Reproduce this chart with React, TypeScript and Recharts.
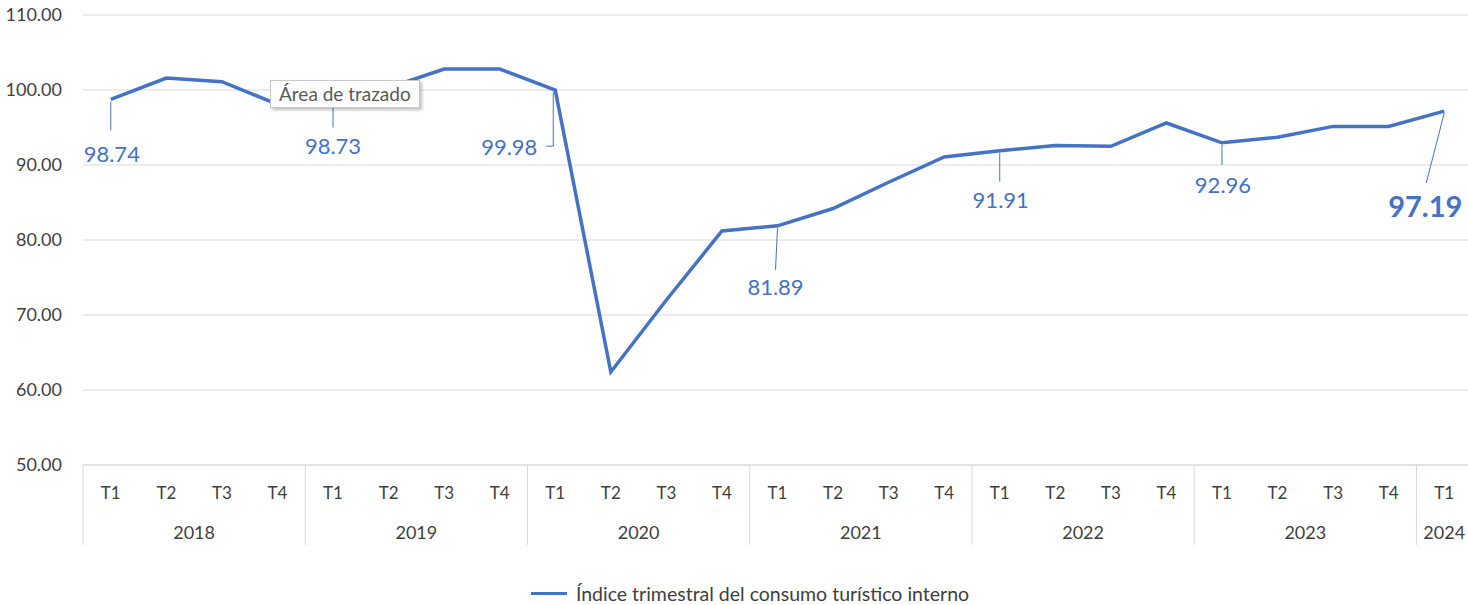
import React from "react";
import { LineChart, Line, XAxis, YAxis, CartesianGrid, LabelList, Legend } from "recharts";

const quarters = ["T1", "T2", "T3", "T4", "T1", "T2", "T3", "T4", "T1", "T2", "T3", "T4", "T1", "T2", "T3", "T4", "T1", "T2", "T3", "T4", "T1", "T2", "T3", "T4", "T1"];
const years = ["2018", "2018", "2018", "2018", "2019", "2019", "2019", "2019", "2020", "2020", "2020", "2020", "2021", "2021", "2021", "2021", "2022", "2022", "2022", "2022", "2023", "2023", "2023", "2023", "2024"];
const values = [98.74, 101.6, 101.1, 98.1, 98.73, 100.3, 102.8, 102.8, 99.98, 62.4, 72.0, 81.2, 81.89, 84.2, 87.7, 91.07, 91.91, 92.6, 92.5, 95.6, 92.96, 93.7, 95.15, 95.15, 97.19];
const yTicks = [50, 60, 70, 80, 90, 100, 110];
const labelledIdx = [0, 4, 8, 12, 16, 20, 24];

const SERIES_NAME = "Índice trimestral del consumo turístico interno";
const BLUE = "#4472C4";
const FONT = "Lato, 'Noto Sans', sans-serif";
const W = 1468;
const H = 605;
// the original plot runs a little past the right edge of the picture
const CHART_W = 1472;
const PLOT_LEFT = 83;
const PLOT_RIGHT = 1472;
const PLOT_TOP = 15;
const PLOT_BOTTOM = 465;
const AXIS_BOTTOM = 545;
const HALF_BAND = (PLOT_RIGHT - PLOT_LEFT) / quarters.length / 2;

const data = quarters.map((q, i) => ({ q, year: years[i], v: values[i] }));

// label placement per labelled point (offsets from the point)
const labelLayout: Record<number, { dx: number; dy: number; lead: number[][]; bold?: boolean }> = {
  0: { dx: 1, dy: 54, lead: [[0, 2], [0, 31]] },
  4: { dx: 0, dy: 46, lead: [[0, 2], [0, 28]] },
  8: { dx: -46, dy: 56, lead: [[-2, 2], [-2, 56], [-9, 56]] },
  12: { dx: -2, dy: 61, lead: [[0, 2], [-2, 44]] },
  16: { dx: 1, dy: 49, lead: [[0, 2], [0, 31]] },
  20: { dx: 1, dy: 42, lead: [[0, 2], [0, 22]] },
  24: { dx: -19, dy: 94, lead: [[0, 2], [-18, 72]], bold: true },
};

function PointLabel(props: any) {
  const { x, y, value, index } = props;
  const idx = typeof index === "number" ? index : values.indexOf(value);
  if (!labelledIdx.includes(idx)) return null;
  const l = labelLayout[idx];
  const pts = l.lead.map(([a, b]) => `${x + a},${y + b}`).join(" ");
  return (
    <g>
      <polyline points={pts} fill="none" stroke={BLUE} strokeWidth={1} />
      <text
        x={x + l.dx}
        y={y + l.dy}
        textAnchor="middle"
        dominantBaseline="central"
        fill={BLUE}
        fontFamily={FONT}
        fontSize={l.bold ? 29 : 22}
        fontWeight={l.bold ? 700 : 400}
      >
        {Number(value).toFixed(2)}
      </text>
    </g>
  );
}

function CategoryTick(props: any) {
  const { x, payload, index } = props;
  const yr = years[index];
  const first = index === 0 || years[index - 1] !== yr;
  const groupSize = years.filter((y) => y === yr).length;
  return (
    <g>
      <text x={x} y={492} textAnchor="middle" dominantBaseline="central" fill="#404040" fontFamily={FONT} fontSize={17}>
        {payload.value}
      </text>
      {first && (
        <>
          <line x1={x - HALF_BAND} x2={x - HALF_BAND} y1={PLOT_BOTTOM} y2={AXIS_BOTTOM} stroke="#d9d9d9" strokeWidth={1} />
          <text
            x={x - HALF_BAND + HALF_BAND * groupSize}
            y={532}
            textAnchor="middle"
            dominantBaseline="central"
            fill="#404040"
            fontFamily={FONT}
            fontSize={18}
          >
            {yr}
          </text>
        </>
      )}
    </g>
  );
}

function LegendContent() {
  return (
    <div style={{ height: H - AXIS_BOTTOM, position: "relative", fontFamily: FONT }}>
      <div style={{ position: "absolute", top: 37, left: 14, width: "100%", display: "flex", justifyContent: "center", alignItems: "center" }}>
        <span style={{ display: "inline-block", width: 36, height: 3, background: BLUE, marginRight: 9 }} />
        <span style={{ fontSize: 19.5, color: "#404040" }}>{SERIES_NAME}</span>
      </div>
    </div>
  );
}

export default function App() {
  return (
    <div style={{ position: "relative", width: W, height: H, background: "#fff", overflow: "hidden" }}>
      <style>{"body{margin:0}"}</style>
      <LineChart width={CHART_W} height={H} data={data} margin={{ top: PLOT_TOP, right: CHART_W - PLOT_RIGHT, left: 0, bottom: 0 }}>
        <CartesianGrid vertical={false} stroke="#d9d9d9" />
        <XAxis
          dataKey="q"
          interval={0}
          padding={{ left: HALF_BAND, right: HALF_BAND }}
          height={AXIS_BOTTOM - PLOT_BOTTOM}
          tickLine={false}
          axisLine={{ stroke: "#d9d9d9" }}
          tick={<CategoryTick />}
        />
        <YAxis
          domain={[50, 110]}
          ticks={yTicks}
          width={PLOT_LEFT}
          tickSize={0}
          tickMargin={21}
          axisLine={false}
          tickLine={false}
          tickFormatter={(v: number) => v.toFixed(2)}
          tick={{ fill: "#404040", fontFamily: FONT, fontSize: 18 }}
        />
        <Legend verticalAlign="bottom" height={H - AXIS_BOTTOM} content={<LegendContent />} />
        <Line
          type="linear"
          dataKey="v"
          name={SERIES_NAME}
          stroke={BLUE}
          strokeWidth={3.5}
          dot={false}
          activeDot={false}
          isAnimationActive={false}
        >
          <LabelList dataKey="v" content={<PointLabel />} />
        </Line>
      </LineChart>
      <div
        style={{
          position: "absolute",
          left: 270,
          top: 80,
          width: 150,
          height: 28,
          boxSizing: "border-box",
          paddingLeft: 8,
          background: "#fff",
          border: "1px solid #c8c8c8",
          boxShadow: "2px 2px 3px rgba(0,0,0,0.25)",
          fontFamily: FONT,
          fontSize: 19,
          color: "#595959",
          lineHeight: "26px",
        }}
      >
        Área de trazado
      </div>
    </div>
  );
}
